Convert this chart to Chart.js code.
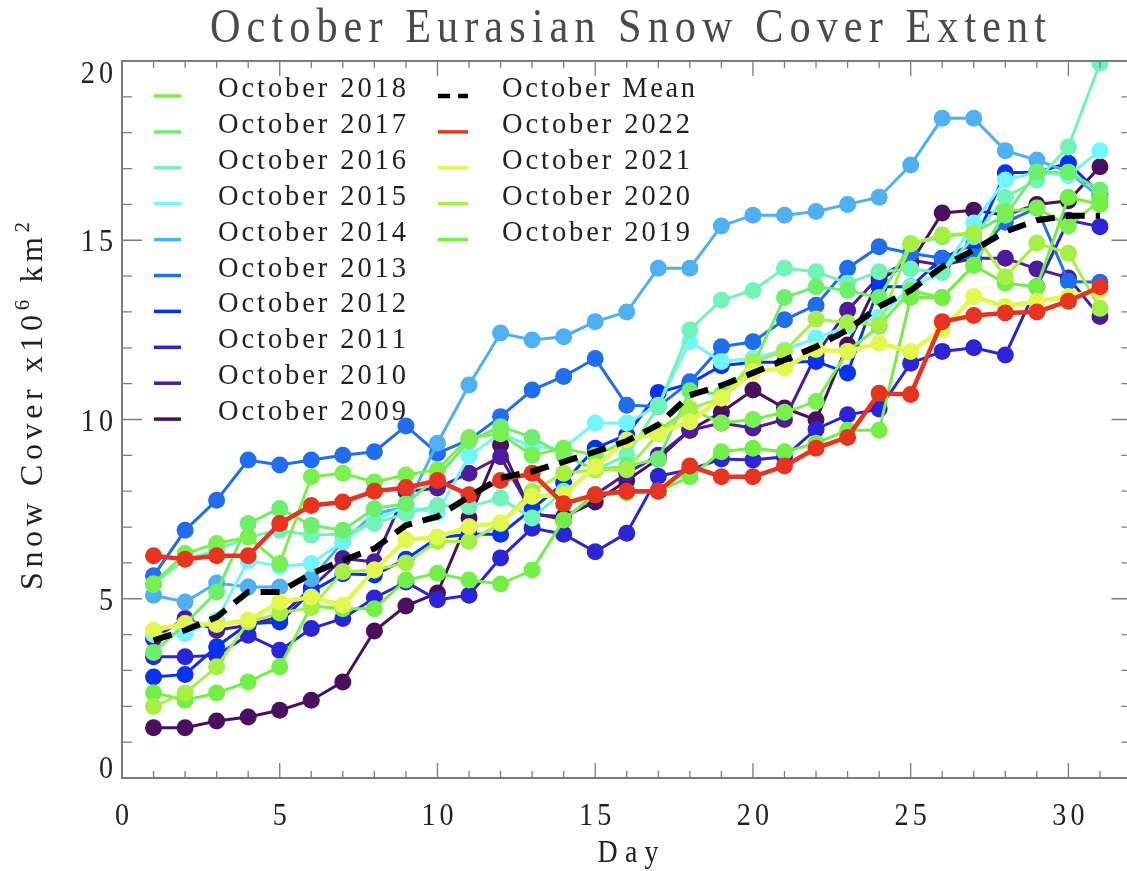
<!DOCTYPE html>
<html>
<head>
<meta charset="utf-8">
<script src="https://cdn.jsdelivr.net/npm/chart.js@4"></script>
<style>
  html, body { margin: 0; padding: 0; background: #fff; overflow: hidden; }
</style>
</head>
<body>
<canvas id="c" width="1140" height="871"></canvas>
<script>
const days = [1,2,3,4,5,6,7,8,9,10,11,12,13,14,15,16,17,18,19,20,21,22,23,24,25,26,27,28,29,30,31];

const y2009 = [1.4,1.4,1.59,1.7,1.89,2.17,2.68,4.1,4.8,5.16,7.25,9.29,7.35,7.29,7.7,8.3,8.9,9.7,10.2,10.82,10.32,9.99,12.08,13.9,14.36,15.76,15.84,15.7,16.0,16.1,17.05];
const y2010 = [3.89,4.45,4.12,4.26,4.5,5.3,6.12,6.03,7.99,8.09,8.5,8.96,7.4,7.2,7.9,8.5,9.0,9.7,9.9,9.76,10.0,11.8,13.05,13.98,14.45,14.3,14.5,14.5,14.2,13.95,12.87];
const y2011 = [3.38,3.38,3.42,3.98,3.56,4.17,4.45,5.02,5.47,4.97,5.1,6.14,6.97,6.8,6.31,6.83,8.42,8.6,8.9,8.87,8.96,9.73,10.13,10.29,11.57,11.9,12.0,11.8,13.7,15.56,15.38];
const y2012 = [2.82,2.89,3.66,4.3,4.35,5.2,5.7,5.66,6.1,6.7,6.8,6.8,7.5,8.23,9.2,9.57,10.75,11.0,11.5,11.6,11.6,11.62,11.3,13.7,13.7,14.5,14.9,16.88,16.9,17.15,16.3];
const y2013 = [5.64,6.91,7.75,8.87,8.73,8.87,9.0,9.1,9.82,9.06,9.43,10.08,10.82,11.2,11.7,10.4,10.36,11.05,12.03,12.17,12.78,13.19,14.22,14.82,14.64,14.5,14.55,15.5,15.9,13.85,13.83];
const y2014 = [5.1,4.91,5.44,5.33,5.33,5.56,6.59,7.38,7.55,9.34,10.96,12.41,12.22,12.31,12.73,13.0,14.22,14.22,15.4,15.7,15.7,15.8,16.0,16.2,17.1,18.4,18.4,17.5,17.24,16.9,16.2];
const y2015 = [4.0,4.03,4.4,6.07,5.9,5.98,6.6,7.2,7.57,7.4,8.98,9.62,9.24,9.2,9.9,9.9,10.4,12.17,11.62,11.7,11.94,12.27,12.6,12.85,13.7,14.1,15.48,16.68,16.9,16.8,17.5];
const y2016 = [5.4,6.1,6.35,6.72,6.91,6.77,6.8,7.1,7.38,7.6,7.57,7.8,7.25,8.0,8.6,9.0,10.36,12.5,13.33,13.6,14.22,14.12,13.8,14.12,14.2,14.1,15.1,16.2,16.68,17.6,19.94];
const y2017 = [3.5,4.3,5.19,7.1,7.52,7.05,6.91,7.52,7.65,8.4,9.4,9.8,9.5,9.0,8.6,8.7,8.9,10.8,10.7,11.5,13.4,13.7,13.6,13.4,14.9,15.1,15.2,15.7,16.9,16.9,16.4];
const y2018 = [5.42,6.26,6.54,6.72,5.98,8.4,8.5,8.26,8.45,8.6,9.5,9.6,9.0,9.2,9.0,9.4,9.7,10.3,9.9,10.0,10.2,10.5,11.9,12.6,13.6,13.4,14.3,15.8,15.9,15.4,16.1];
const y2019 = [2.38,2.17,2.37,2.68,3.1,4.8,4.72,4.72,5.52,5.71,5.52,5.41,5.8,7.2,7.9,7.95,8.0,8.4,9.1,9.2,9.1,9.34,9.7,9.7,13.4,13.4,14.3,13.8,13.7,16.2,16.0];
const y2020 = [2.0,2.37,3.1,4.35,4.6,4.75,5.75,5.8,6.0,6.6,6.6,7.1,8.0,8.5,8.6,8.6,9.6,10.3,10.6,11.6,11.9,12.8,12.7,12.64,14.9,15.15,15.2,13.98,14.92,14.64,13.1];
const y2021 = [4.12,4.31,4.28,4.4,4.91,5.05,4.82,5.8,6.64,6.72,7.01,7.12,7.85,7.9,8.68,9.43,9.62,9.94,10.6,11.33,11.43,11.95,11.9,12.13,11.9,12.5,13.43,13.15,13.3,13.43,13.6];
const y2022 = [6.2,6.1,6.2,6.2,7.1,7.6,7.7,8.0,8.1,8.3,7.9,8.3,8.5,7.65,7.9,8.0,8.0,8.7,8.4,8.4,8.7,9.2,9.5,10.73,10.7,12.73,12.9,12.97,13.0,13.3,13.7];
const yMean = [3.84,4.12,4.49,5.19,5.19,5.7,6.07,6.4,7.05,7.29,7.85,8.37,8.55,8.82,9.1,9.4,9.85,10.68,10.95,11.3,11.66,12.03,12.5,13.15,13.6,14.26,14.73,15.24,15.56,15.68,15.68];

const xTickLabels = ['0','5','10','15','20','25','30'];
const yTickLabels = ['0','5','10','15','20'];

const legendLeft = ['October 2018','October 2017','October 2016','October 2015','October 2014',
                    'October 2013','October 2012','October 2011','October 2010','October 2009'];
const legendRight = ['October Mean','October 2022','October 2021','October 2020','October 2019'];

const colors = {
  'October 2009': '#4a0f5e', 'October 2010': '#4d1c9e', 'October 2011': '#2c24d8',
  'October 2012': '#0433f2', 'October 2013': '#1f6ef0', 'October 2014': '#4eb0f5',
  'October 2015': '#70f6ff', 'October 2016': '#70f4b8', 'October 2017': '#6cf06c',
  'October 2018': '#7af04c', 'October 2019': '#72f044', 'October 2020': '#a6f044',
  'October 2021': '#e2f84c', 'October 2022': '#e8341f', 'October Mean': '#000000'
};

const pts = vals => days.map((d, i) => ({ x: d, y: vals[i] }));

function yearSet(label, vals, order, width) {
  return {
    label, data: pts(vals), order,
    borderColor: colors[label], backgroundColor: colors[label],
    pointBackgroundColor: colors[label], pointBorderWidth: 0,
    borderWidth: width || 3, pointRadius: 8.5, pointHoverRadius: 8.5, tension: 0
  };
}

const datasets = [
  yearSet('October 2009', y2009, 14),
  yearSet('October 2010', y2010, 13),
  yearSet('October 2011', y2011, 12),
  yearSet('October 2012', y2012, 11),
  yearSet('October 2013', y2013, 10),
  yearSet('October 2014', y2014, 9),
  yearSet('October 2015', y2015, 8),
  yearSet('October 2016', y2016, 7),
  yearSet('October 2017', y2017, 6),
  yearSet('October 2018', y2018, 5),
  yearSet('October 2019', y2019, 4),
  yearSet('October 2020', y2020, 3),
  yearSet('October 2021', y2021, 2, 4.5),
  yearSet('October 2022', y2022, 1, 4.5),
  {
    label: 'October Mean', data: pts(yMean), order: 0,
    borderColor: '#000', borderWidth: 6, borderDash: [19, 11],
    pointRadius: 0, tension: 0
  }
];

// letter-spaced serif text (stands in for the Hershey font)
function drawRun(ctx, segs, x, y, o) {
  const sx = o.sx || 1;
  const chars = [];
  segs.forEach(s => {
    ctx.font = s.size + 'px "Liberation Serif"';
    for (const c of s.t) chars.push({ c, size: s.size, rise: s.rise || 0, w: ctx.measureText(c).width * sx });
  });
  const sum = chars.reduce((a, c) => a + c.w, 0);
  const sp = o.width != null ? (o.width - sum) / Math.max(1, chars.length - 1) : (o.sp || 0);
  const total = sum + sp * (chars.length - 1);
  let cx = o.align === 'center' ? x - total / 2 : o.align === 'right' ? x - total : x;
  chars.forEach(ch => {
    ctx.font = ch.size + 'px "Liberation Serif"';
    ctx.save();
    ctx.translate(cx, y - ch.rise);
    ctx.scale(sx, 1);
    ctx.fillText(ch.c, 0, 0);
    ctx.restore();
    cx += ch.w + sp;
  });
}

const frame = {
  id: 'frame',
  beforeDraw(chart) {
    const ctx = chart.ctx;
    ctx.save();
    ctx.fillStyle = '#fff';
    ctx.fillRect(0, 0, chart.width, chart.height);
    ctx.restore();
  },
  afterDraw(chart) {
    const { ctx, chartArea: a, scales: { x, y } } = chart;
    ctx.save();
    ctx.strokeStyle = '#7c7c7c';
    ctx.lineWidth = 2;
    ctx.strokeRect(a.left, a.top, a.right - a.left, a.bottom - a.top);

    ctx.lineWidth = 1.3;
    ctx.beginPath();
    for (let d = 1; d < 32; d++) {
      const px = x.getPixelForValue(d);
      const len = d % 5 === 0 ? 15 : 7;
      ctx.moveTo(px, a.bottom); ctx.lineTo(px, a.bottom - len);
      ctx.moveTo(px, a.top); ctx.lineTo(px, a.top + len);
    }
    for (let v = 1; v < 20; v++) {
      const py = y.getPixelForValue(v);
      const len = v % 5 === 0 ? 20 : 10;
      ctx.moveTo(a.left, py); ctx.lineTo(a.left + len, py);
      ctx.moveTo(a.right, py); ctx.lineTo(a.right - len, py);
    }
    ctx.stroke();

    ctx.fillStyle = '#222';
    ctx.textBaseline = 'alphabetic';
    xTickLabels.forEach(t => {
      drawRun(ctx, [{ t, size: 32 }], x.getPixelForValue(Number(t)), 825, { align: 'center', sp: 4, sx: 0.88 });
    });
    yTickLabels.forEach(t => {
      const v = Number(t);
      const py = y.getPixelForValue(v);
      const base = v === 0 ? py : v === 20 ? py + 22 : py + 11;
      drawRun(ctx, [{ t, size: 32 }], 113, base, { align: 'right', sp: 4, sx: 0.88 });
    });

    drawRun(ctx, [{ t: 'Day', size: 31 }], 628, 862, { align: 'center', width: 61, sx: 0.9 });

    ctx.save();
    ctx.translate(42, 406);
    ctx.rotate(-Math.PI / 2);
    drawRun(ctx, [
      { t: 'Snow Cover x10', size: 32 },
      { t: '6', size: 21, rise: 13 },
      { t: ' km', size: 32 },
      { t: '2', size: 21, rise: 13 }
    ], 0, 0, { align: 'center', width: 368 });
    ctx.restore();

    ctx.fillStyle = '#4a4a4a';
    drawRun(ctx, [{ t: 'October Eurasian Snow Cover Extent', size: 48 }], 628, 42,
            { align: 'center', width: 836, sx: 0.88 });

    // legend
    ctx.fillStyle = '#222';
    ctx.lineCap = 'butt';
    legendLeft.forEach((lab, i) => {
      const by = 97 + 35.9 * i;
      ctx.strokeStyle = colors[lab];
      ctx.lineWidth = 3.5;
      ctx.setLineDash([]);
      ctx.beginPath(); ctx.moveTo(154, by - 1); ctx.lineTo(181, by - 1); ctx.stroke();
      drawRun(ctx, [{ t: lab, size: 28.5 }], 218, by, { width: 188 });
    });
    legendRight.forEach((lab, i) => {
      const by = 97 + 35.9 * i;
      ctx.strokeStyle = colors[lab];
      if (lab === 'October Mean') {
        ctx.lineWidth = 4.5;
        ctx.setLineDash([12, 8]);
      } else {
        ctx.lineWidth = 3.5;
        ctx.setLineDash([]);
      }
      ctx.beginPath(); ctx.moveTo(438, by - 1); ctx.lineTo(468, by - 1); ctx.stroke();
      drawRun(ctx, [{ t: lab, size: 28.5 }], 502, by, { width: lab === 'October Mean' ? 193 : 188 });
    });
    ctx.restore();
  }
};

new Chart(document.getElementById('c'), {
  type: 'line',
  data: { datasets },
  options: {
    responsive: false,
    animation: false,
    events: [],
    layout: { padding: { left: 122, top: 61, right: 8, bottom: 93 } },
    plugins: { legend: { display: false }, tooltip: { enabled: false } },
    scales: {
      x: { type: 'linear', min: 0, max: 32, display: false },
      y: { type: 'linear', min: 0, max: 20, display: false }
    }
  },
  plugins: [frame]
});
</script>
</body>
</html>
